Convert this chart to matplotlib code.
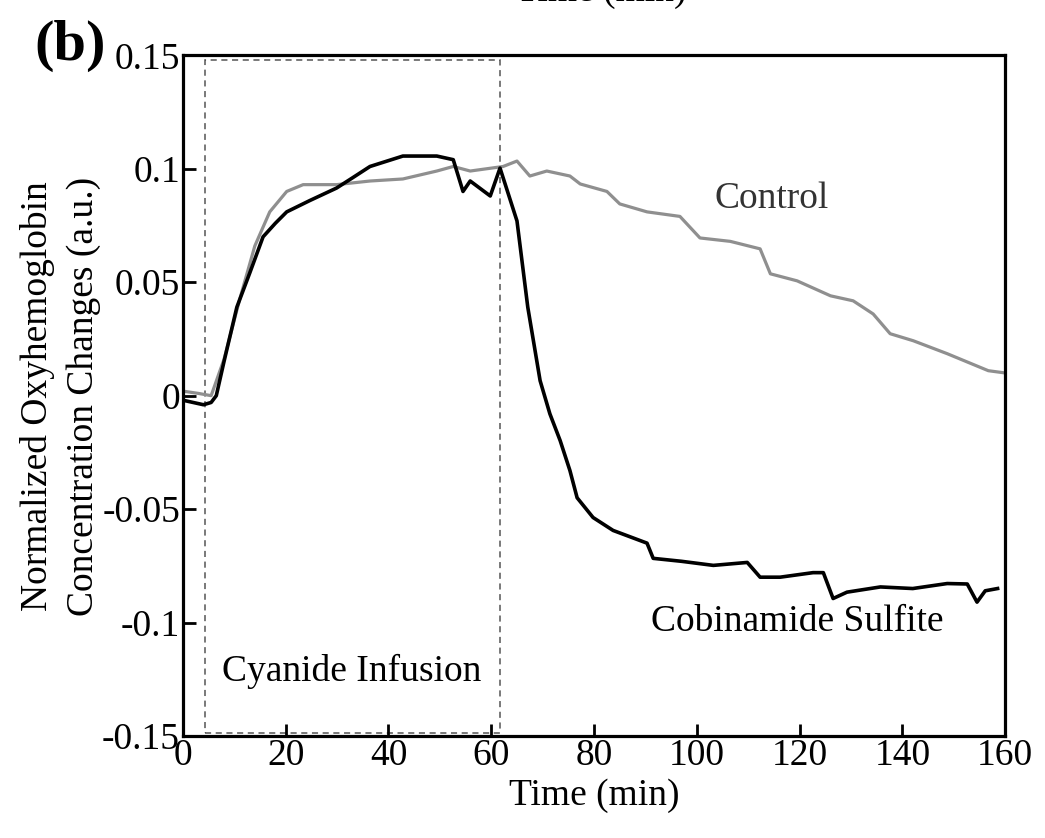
import matplotlib.pyplot as plt
from matplotlib.patches import Rectangle

plt.rcParams['font.family'] = ['Liberation Serif', 'DejaVu Serif']

# cobinamide sulfite trace (black)
t_cob = [0, 2, 4, 5.5, 6.5, 8, 10.5, 13, 15.6, 18, 20.2, 24.7, 29.9, 33, 36.4,
         42.8, 49.4, 52.6, 54.5, 55.9, 59.8, 61.7, 65, 67.1, 69.5, 71.4, 73.4,
         75.3, 76.7, 79.8, 83.7, 90.3, 91.5, 97, 103.2, 109.8, 112.3, 116.2,
         122.6, 124.6, 126.5, 129.2, 135.7, 142, 148.7, 152.6, 154.5, 156.1,
         158.5]
y_cob = [-0.002, -0.003, -0.004, -0.003, 0.0, 0.015, 0.039, 0.054, 0.07, 0.076,
         0.081, 0.086, 0.0915, 0.096, 0.101, 0.1056, 0.1056, 0.104, 0.090,
         0.0946, 0.088, 0.1003, 0.077, 0.039, 0.0066, -0.008, -0.0198, -0.033,
         -0.045, -0.0537, -0.0594, -0.065, -0.0717, -0.073, -0.0748, -0.0735,
         -0.080, -0.080, -0.078, -0.078, -0.0894, -0.0866, -0.0843, -0.085,
         -0.0828, -0.083, -0.091, -0.086, -0.085]

# control trace (grey)
t_ctl = [0, 3, 5.5, 8, 11, 14, 16.9, 20.2, 23.4, 29.9, 36.4, 42.8, 49.4, 52.6,
         55.9, 62.3, 65, 67.5, 70.8, 75.3, 77.3, 82.5, 85, 90.3, 96.7, 100.6,
         106.5, 112.3, 114.3, 119.5, 126, 130.4, 134.3, 137.6, 142.1, 148.7,
         156.7, 160]
y_ctl = [0.002, 0.001, 0.0, 0.016, 0.042, 0.066, 0.081, 0.090, 0.093, 0.093,
         0.0946, 0.0955, 0.099, 0.101, 0.099, 0.101, 0.1034, 0.0968, 0.099,
         0.0968, 0.0933, 0.090, 0.0845, 0.081, 0.079, 0.0695, 0.068, 0.0647,
         0.0537, 0.0506, 0.044, 0.0418, 0.036, 0.0273, 0.0242, 0.0185, 0.011,
         0.010]

x_ticks = [0, 20, 40, 60, 80, 100, 120, 140, 160]
y_ticks = [-0.15, -0.1, -0.05, 0, 0.05, 0.1, 0.15]
y_tick_labels = ['-0.15', '-0.1', '-0.05', '0', '0.05', '0.1', '0.15']

infusion_start, infusion_end = 4.3, 61.7
infusion_low, infusion_high = -0.1485, 0.148

fig = plt.figure(figsize=(10.45, 8.38), dpi=100)
ax = fig.add_axes([0.175, 0.1217, 0.787, 0.8123])

ax.plot(t_ctl, y_ctl, color='#8f8f8f', lw=2.3)
ax.plot(t_cob, y_cob, color='black', lw=2.6)

ax.add_patch(Rectangle((infusion_start, infusion_low),
                       infusion_end - infusion_start,
                       infusion_high - infusion_low,
                       fill=False, ls=(0, (4, 3)), lw=1.1, ec='#555555'))

ax.set_xlim(0, 160)
ax.set_ylim(-0.15, 0.15)
ax.set_xticks(x_ticks)
ax.set_yticks(y_ticks)
ax.set_yticklabels(y_tick_labels)
ax.tick_params(direction='in', length=9, width=2, labelsize=27, pad=2)
for s in ax.spines.values():
    s.set_linewidth(2.3)

ax.set_xlabel('Time (min)', fontsize=27, labelpad=4)

ax.text(114.6, 0.087, 'Control', fontsize=27, color='#333333', ha='center', va='center')
ax.text(119.5, -0.0995, 'Cobinamide Sulfite', fontsize=27, ha='center', va='center')
ax.text(32.9, -0.1215, 'Cyanide Infusion', fontsize=27, ha='center', va='center')

fig.text(0.058, 0.527, 'Normalized Oxyhemoglobin\nConcentration Changes (a.u.)',
         rotation=90, fontsize=27, ha='center', va='center',
         multialignment='center', linespacing=1.4)
fig.text(0.067, 0.945, '(b)', fontsize=42, fontweight='bold', ha='center', va='center')
# cut-off label from the panel above
fig.text(0.575, 1 - 9 / 838, 'Time (min)', fontsize=27, ha='center', va='bottom')

fig.savefig('out.png', dpi=100)
